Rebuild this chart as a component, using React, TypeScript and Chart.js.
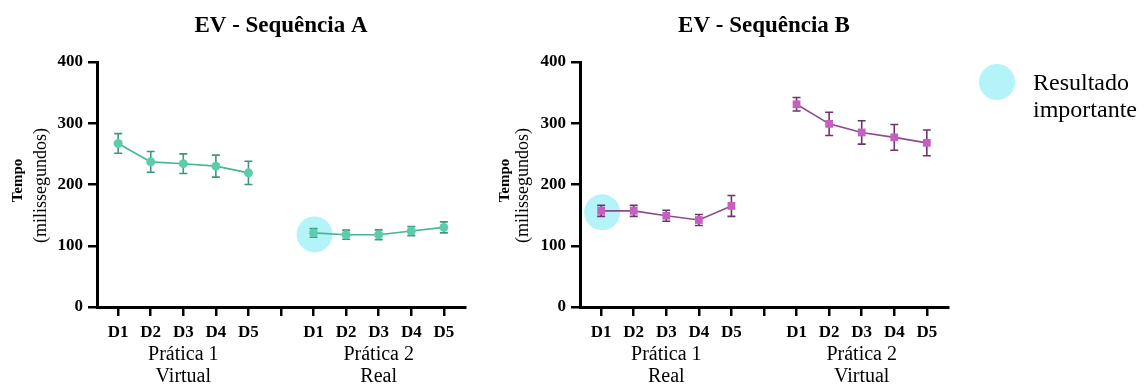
import React, { useEffect, useRef } from 'react';
import { Chart, registerables } from 'chart.js';

Chart.register(...registerables);

// ---------- data ----------
const dayLabels = ['D1', 'D2', 'D3', 'D4', 'D5'];
const xTickLabels = [...dayLabels, '', ...dayLabels];
const groupStarts = [1, dayLabels.length + 2];
const yTicks = [0, 100, 200, 300, 400];

const titleA = 'EV - Sequência A';
const titleB = 'EV - Sequência B';
const groupsA = [['Prática 1', 'Virtual'], ['Prática 2', 'Real']];
const groupsB = [['Prática 1', 'Real'], ['Prática 2', 'Virtual']];
const yTitleBold = 'Tempo';
const yTitleNormal = '(milissegundos)';
const legendLines = ['Resultado', 'importante'];

const seqA_p1_mean = [267, 237, 234, 230, 219];
const seqA_p1_err = [16, 17, 16, 18, 19];
const seqA_p2_mean = [121, 118, 118, 124, 130];
const seqA_p2_err = [7, 7.5, 8, 7.5, 9];

const seqB_p1_mean = [157, 157, 149, 142, 165];
const seqB_p1_err = [9, 9, 9, 9, 17];
const seqB_p2_mean = [331, 299, 285, 277, 268];
const seqB_p2_err = [11, 19, 19, 21, 21];

// highlighted point: [group, index]
const highlightA = [1, 0];
const highlightB = [0, 0];

// ---------- styles ----------
const FONT = "'Liberation Serif', 'Times New Roman', serif";
const HIGHLIGHT = '#b4f4f8';
const teal = { fill: '#5ccdaa', line: '#46b496', err: '#3f9583' };
const purple = { fill: '#c560c0', line: '#8e4a8c', err: '#6f3370' };

type PanelProps = {
  left: number;
  width: number;
  padRight: number;
  yWidth: number;
  title: string;
  groups: string[][];
  means: number[][];
  errs: number[][];
  colors: { fill: string; line: string; err: string };
  pointStyle: any;
  pointRadius: number;
  highlight: number[];
  yTitleX: [number, number];
  legend?: boolean;
};

function Panel(props: PanelProps) {
  const ref = useRef<HTMLCanvasElement>(null);
  useEffect(() => {
    const canvas = ref.current!;
    const { colors } = props;
    const datasets: any[] = props.means.map((m, g) => ({
      data: m.map((v, i) => ({ x: groupStarts[g] + i, y: v })),
      errors: props.errs[g],
      borderColor: colors.line,
      backgroundColor: colors.fill,
      pointBackgroundColor: colors.fill,
      pointBorderColor: colors.fill,
      pointBorderWidth: 0,
      pointStyle: props.pointStyle,
      pointRadius: props.pointRadius,
      borderWidth: 1.6,
      tension: 0,
      fill: false,
    }));

    const decor = {
      id: 'decor',
      beforeDatasetsDraw(chart: any) {
        const ctx = chart.ctx;
        const ys = chart.scales.y;
        // highlight circle
        const hm = chart.getDatasetMeta(props.highlight[0]);
        const hel = hm.data[props.highlight[1]];
        ctx.save();
        ctx.fillStyle = HIGHLIGHT;
        ctx.beginPath();
        ctx.arc(hel.x + 1, hel.y + 1.5, 18, 0, Math.PI * 2);
        ctx.fill();
        // error bars
        ctx.strokeStyle = colors.err;
        ctx.lineWidth = 1.6;
        chart.data.datasets.forEach((ds: any, di: number) => {
          const meta = chart.getDatasetMeta(di);
          meta.data.forEach((el: any, i: number) => {
            const v = ds.data[i].y;
            const e = ds.errors[i];
            const yt = ys.getPixelForValue(v + e);
            const yb = ys.getPixelForValue(v - e);
            const cap = 4;
            ctx.beginPath();
            ctx.moveTo(el.x, yt);
            ctx.lineTo(el.x, yb);
            ctx.moveTo(el.x - cap, yt);
            ctx.lineTo(el.x + cap, yt);
            ctx.moveTo(el.x - cap, yb);
            ctx.lineTo(el.x + cap, yb);
            ctx.stroke();
          });
        });
        ctx.restore();
      },
      afterDraw(chart: any) {
        const ctx = chart.ctx;
        const area = chart.chartArea;
        const xs = chart.scales.x;
        ctx.save();
        ctx.fillStyle = '#000';
        // title
        ctx.font = `bold 23px ${FONT}`;
        ctx.textAlign = 'center';
        ctx.textBaseline = 'middle';
        ctx.fillText(props.title, (area.left + area.right) / 2, 26);
        // group labels
        ctx.font = `20px ${FONT}`;
        props.groups.forEach((lines, g) => {
          const cx = xs.getPixelForValue(groupStarts[g] + (dayLabels.length - 1) / 2);
          ctx.fillText(lines[0], cx, 355);
          ctx.fillText(lines[1], cx, 377);
        });
        // y title
        const cy = (area.top + area.bottom) / 2;
        ctx.save();
        ctx.translate(props.yTitleX[0], cy - 4);
        ctx.rotate(-Math.PI / 2);
        ctx.font = `bold 15px ${FONT}`;
        ctx.fillText(yTitleBold, 0, 0);
        ctx.restore();
        ctx.save();
        ctx.translate(props.yTitleX[1], cy + 1);
        ctx.rotate(-Math.PI / 2);
        ctx.font = `18px ${FONT}`;
        ctx.fillText(yTitleNormal, 0, 0);
        ctx.restore();
        // legend
        if (props.legend) {
          ctx.fillStyle = HIGHLIGHT;
          ctx.beginPath();
          ctx.arc(997 - props.left, 82, 18, 0, Math.PI * 2);
          ctx.fill();
          ctx.fillStyle = '#000';
          ctx.textAlign = 'left';
          ctx.font = `24px ${FONT}`;
          ctx.fillText(legendLines[0], 1033 - props.left, 84);
          ctx.fillText(legendLines[1], 1033 - props.left, 111);
        }
        ctx.restore();
      },
    };

    const tickFont = { family: FONT, weight: 'bold' as const, size: 17 };
    const chart = new Chart(canvas, {
      type: 'line',
      data: { datasets },
      plugins: [decor],
      options: {
        responsive: false,
        animation: false,
        devicePixelRatio: 1,
        layout: { padding: { left: 0, right: props.padRight, top: 62, bottom: 0 } },
        plugins: {
          legend: { display: false },
          tooltip: { enabled: false },
          title: { display: false },
        },
        scales: {
          x: {
            type: 'linear',
            min: 0.35,
            max: 11.65,
            afterBuildTicks: (s: any) => {
              s.ticks = xTickLabels.map((_, i) => ({ value: i + 1 }));
            },
            afterFit: (s: any) => {
              s.height = 80;
            },
            grid: { drawOnChartArea: false, drawTicks: true, tickLength: 9, color: '#000', lineWidth: 2.5 },
            border: { display: true, color: '#000', width: 3 },
            ticks: {
              color: '#000',
              font: tickFont,
              padding: 6,
              maxRotation: 0,
              autoSkip: false,
              callback: (v: any) => xTickLabels[Math.round(Number(v)) - 1] ?? '',
            },
          },
          y: {
            type: 'linear',
            min: 0,
            max: 400,
            afterBuildTicks: (s: any) => {
              s.ticks = yTicks.map((v) => ({ value: v }));
            },
            afterFit: (s: any) => {
              s.width = props.yWidth;
            },
            grid: { drawOnChartArea: false, drawTicks: true, tickLength: 9, color: '#000', lineWidth: 2.5 },
            border: { display: true, color: '#000', width: 3 },
            ticks: {
              color: '#000',
              font: tickFont,
              padding: 5,
              callback: (v: any) => String(v),
            },
          },
        },
      } as any,
    });
    return () => chart.destroy();
  }, []);
  return (
    <canvas
      ref={ref}
      width={props.width}
      height={387}
      style={{ position: 'absolute', left: props.left, top: 0, width: props.width, height: 387 }}
    />
  );
}

export default function App() {
  return (
    <div style={{ position: 'absolute', left: 0, top: 0, width: 1147, height: 387, background: '#fff' }}>
      <Panel
        left={0}
        width={480}
        padRight={15}
        yWidth={97}
        title={titleA}
        groups={groupsA}
        means={[seqA_p1_mean, seqA_p2_mean]}
        errs={[seqA_p1_err, seqA_p2_err]}
        colors={teal}
        pointStyle="circle"
        pointRadius={4.5}
        highlight={highlightA}
        yTitleX={[18, 41]}
      />
      <Panel
        left={480}
        width={667}
        padRight={199}
        yWidth={100}
        title={titleB}
        groups={groupsB}
        means={[seqB_p1_mean, seqB_p2_mean]}
        errs={[seqB_p1_err, seqB_p2_err]}
        colors={purple}
        pointStyle="rect"
        pointRadius={5.5}
        highlight={highlightB}
        yTitleX={[25, 43]}
        legend
      />
    </div>
  );
}
